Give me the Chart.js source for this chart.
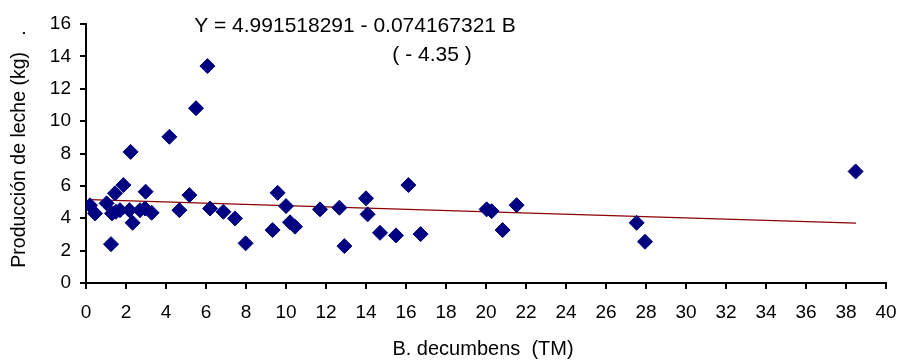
<!DOCTYPE html>
<html>
<head>
<meta charset="utf-8">
<script src="https://cdn.jsdelivr.net/npm/chart.js@4/dist/chart.umd.min.js"></script>
<style>
  html, body { margin: 0; padding: 0; background: #fff; }
  #wrap { width: 899px; height: 360px; position: relative; }
</style>
</head>
<body>
<div id="wrap"><canvas id="chart"></canvas></div>
<script>
// biomasa de B. decumbens (TM) vs produccion de leche (kg)
const biomasa = [0.2, 0.45, 1.03, 1.25, 1.3, 1.45, 1.5, 1.7, 1.87, 2.17, 2.23, 2.33, 2.7, 2.95, 2.98, 3.28,
  4.17, 4.67, 5.17, 5.5, 6.07, 6.2, 6.87, 7.45, 7.98, 9.33, 9.58, 10.0, 10.2, 10.45, 11.7, 12.67, 12.92,
  14.0, 14.08, 14.7, 15.5, 16.12, 16.73, 20.03, 20.28, 20.83, 21.53, 27.53, 27.95, 38.48];
const leche = [4.8, 4.3, 4.92, 2.4, 4.3, 5.54, 4.4, 4.5, 6.05, 4.5, 8.1, 3.72, 4.5, 4.6, 5.64, 4.34,
  9.03, 4.5, 5.43, 10.8, 13.4, 4.6, 4.4, 3.99, 2.45, 3.27, 5.57, 4.75, 3.75, 3.48, 4.55, 4.65, 2.28,
  5.23, 4.24, 3.1, 2.94, 6.05, 3.02, 4.55, 4.44, 3.27, 4.81, 3.72, 2.55, 6.89];

// linea de tendencia tal como aparece en la figura
const tendenciaX = [0.2, 38.5];
const tendenciaY = [5.15, 3.7];

const ecuacion = "Y = 4.991518291 - 0.074167321 B";
const estadisticoT = "( - 4.35 )";
const tituloX = "B. decumbens  (TM)";
const tituloY = "Producción de leche (kg)   .";

const FONT = "'Liberation Sans', Arial, sans-serif";
Chart.defaults.font.family = FONT;
Chart.defaults.color = '#000';

// textos sueltos: ecuacion y titulos de ejes
const textos = {
  id: 'textos',
  afterDraw(chart) {
    const ctx = chart.ctx;
    ctx.save();
    ctx.fillStyle = '#000';
    ctx.textAlign = 'center';
    ctx.textBaseline = 'middle';
    ctx.font = "21px " + FONT;
    ctx.fillText(ecuacion, 355, 26);
    ctx.fillText(estadisticoT, 432, 55);

    ctx.font = "20px " + FONT;
    ctx.fillText(tituloX, 483, 349);

    ctx.font = "19.5px " + FONT;
    ctx.translate(20, 149);
    ctx.rotate(-Math.PI / 2);
    ctx.fillText(tituloY, 0, 0);
    ctx.restore();
  }
};

new Chart(document.getElementById('chart'), {
  type: 'scatter',
  data: {
    datasets: [
      {
        label: 'Observado',
        data: biomasa.map((b, i) => ({ x: b, y: leche[i] })),
        pointStyle: 'rectRot',
        pointRadius: 7.5,
        pointHoverRadius: 7.5,
        backgroundColor: '#000080',
        borderColor: '#000080',
        borderWidth: 1
      },
      {
        label: 'Tendencia',
        type: 'line',
        data: tendenciaX.map((b, i) => ({ x: b, y: tendenciaY[i] })),
        borderColor: '#8b0000',
        borderWidth: 1.2,
        pointRadius: 0,
        fill: false
      }
    ]
  },
  options: {
    responsive: true,
    maintainAspectRatio: false,
    animation: false,
    layout: {
      padding: { top: 24, right: 13, left: 0, bottom: 0 }
    },
    plugins: {
      legend: { display: false },
      tooltip: { enabled: false }
    },
    scales: {
      x: {
        type: 'linear',
        min: 0,
        max: 40,
        afterFit: s => { s.height = 77; s.paddingRight = 0; s.paddingLeft = 0; },
        ticks: { stepSize: 2, padding: 12, font: { size: 19 } },
        grid: { drawOnChartArea: false, tickLength: 6, color: '#000', lineWidth: 2 },
        border: { color: '#000', width: 2 }
      },
      y: {
        min: 0,
        max: 16,
        afterFit: s => { s.width = 86; },
        ticks: { stepSize: 2, padding: 9, font: { size: 19 } },
        grid: { drawOnChartArea: false, tickLength: 6, color: '#000', lineWidth: 2 },
        border: { color: '#000', width: 2 }
      }
    }
  },
  plugins: [textos]
});
</script>
</body>
</html>
